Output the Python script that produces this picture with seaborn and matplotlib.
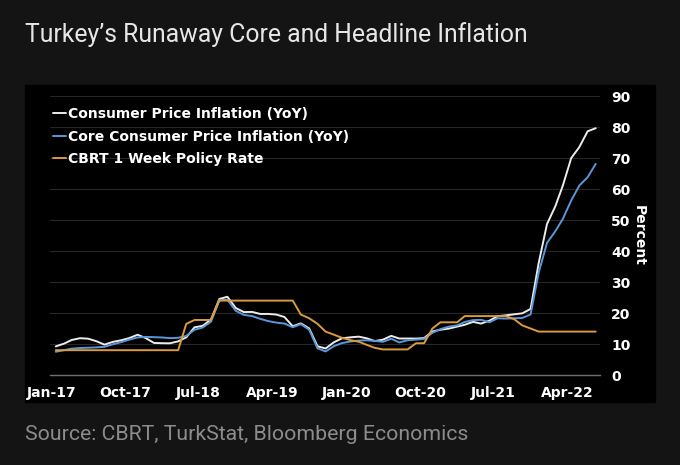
import pandas as pd
import matplotlib.pyplot as plt
import matplotlib.dates as mdates
from matplotlib.patches import Rectangle
import seaborn as sns

# Data: monthly, Jan-17 .. Jul-22 (YoY %, policy rate %)
start_month = "2017-01-01"
cpi = [
    9.22, 10.13, 11.29, 11.87, 11.72, 10.90, 9.79, 10.68, 11.20, 11.90, 12.98, 11.92,
    10.35, 10.26, 10.23, 10.85, 12.15, 15.39, 15.85, 17.90, 24.52, 25.24, 21.62, 20.30,
    20.35, 19.67, 19.71, 19.50, 18.71, 15.72, 16.65, 15.01, 9.26, 8.55, 10.56, 11.84,
    12.15, 12.37, 11.86, 10.94, 11.39, 12.62, 11.76, 11.77, 11.75, 11.89, 14.03, 14.60,
    14.97, 15.61, 16.19, 17.14, 16.59, 17.53, 18.95, 19.25, 19.58, 19.89, 21.31, 36.08,
    48.69, 54.44, 61.14, 69.97, 73.50, 78.62, 79.60,
]
core = [
    7.5, 8.0, 8.5, 8.7, 8.8, 8.9, 9.1, 9.9, 10.6, 11.4, 12.1, 12.3,
    12.2, 12.1, 11.9, 12.0, 12.6, 14.6, 15.3, 17.2, 24.1, 24.3, 20.7, 19.4,
    19.0, 18.1, 17.4, 16.9, 16.6, 15.4, 16.4, 14.6, 8.6, 7.6, 9.3, 10.3,
    10.8, 11.1, 11.2, 11.0, 10.7, 11.7, 10.5, 11.2, 11.4, 11.6, 13.6, 14.8,
    15.6, 16.0, 17.1, 17.7, 17.8, 17.0, 18.3, 18.2, 18.3, 18.4, 19.5, 33.0,
    42.6, 46.4, 50.4, 56.3, 61.1, 63.8, 68.1,
]
policy = [
    8.0, 8.0, 8.0, 8.0, 8.0, 8.0, 8.0, 8.0, 8.0, 8.0, 8.0, 8.0,
    8.0, 8.0, 8.0, 8.0, 16.5, 17.75, 17.75, 17.75, 24.0, 24.0, 24.0, 24.0,
    24.0, 24.0, 24.0, 24.0, 24.0, 24.0, 19.5, 18.3, 16.5, 14.0, 13.0, 12.0,
    11.25, 10.75, 9.75, 8.75, 8.25, 8.25, 8.25, 8.25, 10.25, 10.25, 15.0, 17.0,
    17.0, 17.0, 19.0, 19.0, 19.0, 19.0, 19.0, 19.0, 18.0, 16.0, 15.0, 14.0,
    14.0, 14.0, 14.0, 14.0, 14.0, 14.0, 14.0,
]
series_labels = [
    "Consumer Price Inflation (YoY)",
    "Core Consumer Price Inflation (YoY)",
    "CBRT 1 Week Policy Rate",
]
y_ticks = [0, 10, 20, 30, 40, 50, 60, 70, 80, 90]

dates = pd.date_range(start_month, periods=len(cpi), freq="MS") + pd.Timedelta(days=15)
df = pd.DataFrame({"date": dates, "cpi": cpi, "core": core, "policy": policy})

# Style
sns.set_style("dark")
plt.rcParams["font.family"] = ["DejaVu Sans"]

W, H = 680, 465
fig = plt.figure(figsize=(W / 100, H / 100), dpi=100, facecolor="#141414")

# black inner panel (behind the axes)
fig.patches.append(Rectangle((25 / W, 63 / H), 630 / W, 317 / H,
                             transform=fig.transFigure, color="black", zorder=-10))

ax = fig.add_axes([50 / W, 90 / H, 550 / W, 279 / H])
ax.set_facecolor("black")

colors = ["#ececec", "#5b97d8", "#dc9a3e"]
for col, lab, c in zip(["cpi", "core", "policy"], series_labels, colors):
    sns.lineplot(data=df, x="date", y=col, ax=ax, color=c, lw=1.4, label=lab)

# axes limits
x0 = mdates.date2num(pd.Timestamp(start_month)) - 0.21 * 30.44
x1 = mdates.date2num(pd.Timestamp("2022-08-01"))
ax.set_xlim(x0, x1)
ax.set_ylim(0, 90)

xt = pd.date_range(start_month, "2022-04-01", freq="9MS")
ax.set_xticks(xt)
ax.set_xticklabels([d.strftime("%b-%y") for d in xt])

ax.yaxis.tick_right()
ax.yaxis.set_label_position("right")
ax.set_yticks(y_ticks)
ax.set_xlabel("")
ax.set_ylabel("Percent", rotation=270, color="white", fontsize=10,
              fontweight="bold", labelpad=11)

ax.tick_params(axis="x", colors="#7a7a7a", length=4, width=1, pad=4,
               labelcolor="white", labelsize=10)
ax.tick_params(axis="y", length=0, pad=8, labelcolor="white", labelsize=10)
for t in ax.get_xticklabels() + ax.get_yticklabels():
    t.set_fontweight("bold")

ax.grid(axis="y", color="#262626", lw=0.8)
ax.grid(axis="x", visible=False)
for s in ["top", "left", "right"]:
    ax.spines[s].set_visible(False)
ax.spines["bottom"].set_color("#6f6f6f")
ax.spines["bottom"].set_linewidth(1)

leg = ax.legend(loc="upper left", bbox_to_anchor=(53 / W, 1 - 107 / H),
                bbox_transform=fig.transFigure, frameon=False,
                handlelength=0.9, handletextpad=0.15, labelspacing=0.62,
                borderpad=0, borderaxespad=0,
                prop={"size": 10, "weight": "bold"})
for t in leg.get_texts():
    t.set_color("white")

fig.text(25 / W, 1 - 35 / H, "Turkey\u2019s Runaway Core and Headline Inflation",
         color="#e6e6e6", fontsize=17.8, va="center", ha="left", family="Roboto")
fig.text(25 / W, 1 - 435 / H, "Source: CBRT, TurkStat, Bloomberg Economics",
         color="#8c8c8c", fontsize=15.3, va="center", ha="left", family="Roboto")

fig.savefig("out.png", dpi=100, facecolor=fig.get_facecolor())
